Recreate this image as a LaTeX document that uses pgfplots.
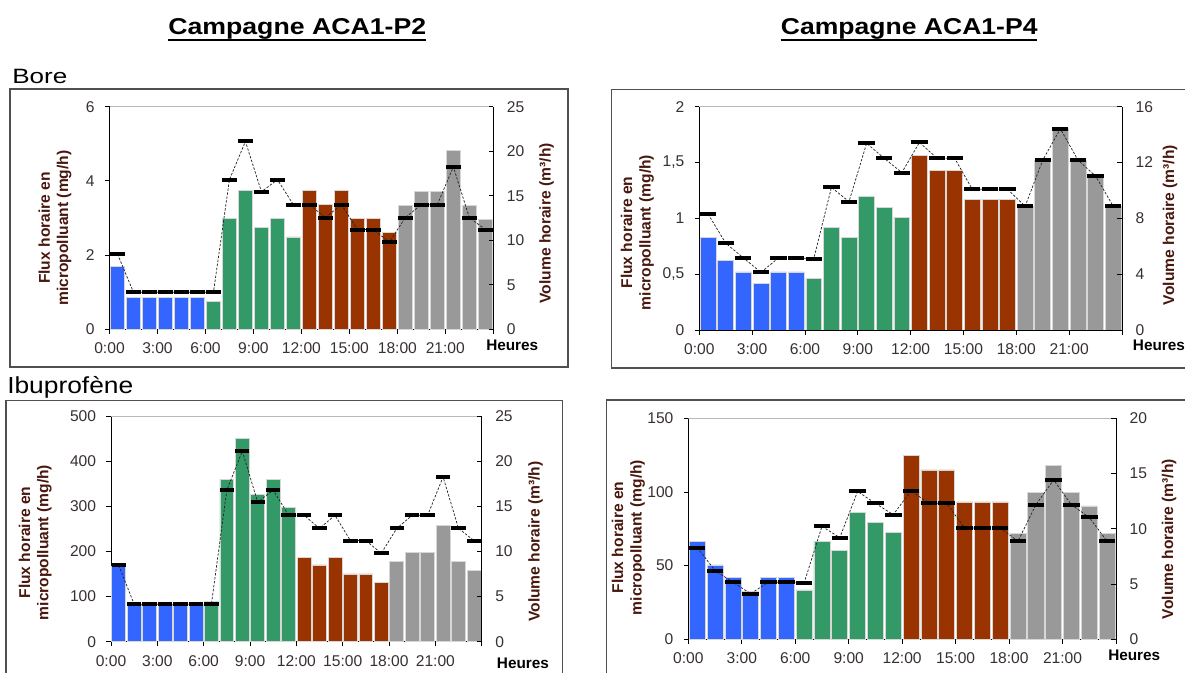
\documentclass[border=0pt]{standalone}
\usepackage{fontspec}
\setmainfont{Liberation Sans}
\usepackage{graphicx}
\usepackage{pgfplots}
\pgfplotsset{compat=1.18}

\definecolor{cblue}{RGB}{51,102,255}
\definecolor{cgreen}{RGB}{51,153,102}
\definecolor{cbrown}{RGB}{153,51,0}
\definecolor{cgray}{RGB}{153,153,153}
\definecolor{tickc}{RGB}{56,48,48}
\definecolor{labc}{RGB}{72,24,14}
\definecolor{framec}{RGB}{80,80,80}
\definecolor{edgec}{RGB}{215,215,215}

\pgfplotsset{
  fluxax/.style={
    scale only axis, anchor=south west,
    xmin=0, xmax=24,
    axis y line*=left, axis x line*=bottom,
    axis line style={black, line width=0.7pt},
    xtick={0,3,...,24},
    xticklabels={0:00,3:00,6:00,9:00,12:00,15:00,18:00,21:00,{}},
    tick style={black, line width=0.6pt},
    major tick length=3.5pt,
    tick align=outside,
    ticklabel style={font=\fontsize{11.7}{13}\selectfont, text=tickc, inner sep=0pt},
    yticklabel style={anchor=east, xshift=-7.5pt},
    xticklabel style={anchor=north, yshift=-6.5pt},
  },
  volax/.style={
    scale only axis, anchor=south west,
    xmin=0, xmax=24,
    axis y line*=right, axis x line=none,
    axis line style={black, line width=0.7pt},
    tick style={black, line width=0.6pt},
    major tick length=3.5pt,
    ytick align=inside,
    yticklabel style={font=\fontsize{11.7}{13}\selectfont, text=tickc, inner sep=0pt, anchor=west, xshift=10pt},
  },
  bars/.style={ybar, bar width=0.9, bar shift=0pt, draw=edgec, line width=0.5pt, fill=#1},
  volline/.style={black!85, line width=0.55pt, dash pattern=on 1.8pt off 1.2pt, mark=-, mark size=#1, mark options={solid, line width=3pt, black}},
}

\begin{document}
\begin{tikzpicture}
\useasboundingbox (0,0) rectangle (888.75pt,504.75pt);
\clip (0,0) rectangle (888.75pt,504.75pt);
\begin{scope}[x=0.75pt,y=-0.75pt,yshift=504.75pt]
  % titles
  \node[anchor=base west, inner sep=0pt] at (168,34.3) {\resizebox{193.5pt}{12pt}{\bfseries Campagne ACA1-P2}};
  \draw[black, line width=1.5pt] (168,40.3) -- (426,40.3);
  \node[anchor=base west, inner sep=0pt] at (780.7,34.3) {\resizebox{192.45pt}{12pt}{\bfseries Campagne ACA1-P4}};
  \draw[black, line width=1.5pt] (780.7,40.3) -- (1037.3,40.3);
  \node[anchor=base west, inner sep=0pt] at (12,83.3) {\resizebox{41.25pt}{10.7pt}{Bore}};
  \node[anchor=base west, inner sep=0pt] at (7,393.3) {\resizebox{94.5pt}{12.8pt}{Ibuprofène}};
  % frames
  \draw[framec, line width=1.1pt] (10,89) rectangle (568,367);
  \draw[framec, line width=1.1pt] (611.7,89.3) rectangle (1200,368);
  \draw[framec, line width=1.1pt] (6,400.7) rectangle (562.3,690);
  \draw[framec, line width=1.1pt] (606.7,400) rectangle (1200,690);
  % axis titles
  \tikzset{ylab/.style={rotate=90, align=center, inner sep=0pt, text=labc, font=\bfseries\fontsize{11.7}{13.8}\selectfont}}
  \node[ylab] at (55,228) {Flux horaire en\\micropolluant (mg/h)};
  \node[ylab] at (637.3,232.5) {Flux horaire en\\micropolluant (mg/h)};
  \node[ylab] at (35.3,542.5) {Flux horaire en\\micropolluant (mg/h)};
  \node[ylab] at (628.3,537.5) {Flux horaire en\\micropolluant (mg/h)};
  \node[ylab] at (546.7,223.3) {Volume horaire (m³/h)};
  \node[ylab] at (1170,225) {Volume horaire (m³/h)};
  \node[ylab] at (535.7,541.7) {Volume horaire (m³/h)};
  \node[ylab] at (1169,539) {Volume horaire (m³/h)};
  \tikzset{hlab/.style={anchor=west, inner sep=0pt, text=black, font=\bfseries\fontsize{11.5}{13}\selectfont}}
  \node[hlab] at (486,345.7) {Heures};
  \node[hlab] at (1132.7,345) {Heures};
  \node[hlab] at (496.7,663) {Heures};
  \node[hlab] at (1108,655) {Heures};
\end{scope}

% ---------------- Panel 1 : Bore, P2 ----------------
\begin{axis}[fluxax, at={(82.125pt,257.775pt)}, width=287.85pt, height=166.95pt,
  ymin=0, ymax=6, ytick={0,2,4,6}, yticklabels={0,2,4,6}]
  \addplot[bars=cblue] coordinates {(0.5,1.69) (1.5,0.85) (2.5,0.85) (3.5,0.85) (4.5,0.85) (5.5,0.85)};
  \addplot[bars=cgreen] coordinates {(6.5,0.75) (7.5,2.99) (8.5,3.74) (9.5,2.74) (10.5,2.99) (11.5,2.49)};
  \addplot[bars=cbrown] coordinates {(12.5,3.74) (13.5,3.36) (14.5,3.74) (15.5,2.99) (16.5,2.99) (17.5,2.62)};
  \addplot[bars=cgray] coordinates {(18.5,3.34) (19.5,3.71) (20.5,3.71) (21.5,4.82) (22.5,3.34) (23.5,2.96)};
  \draw[gray!55, line width=0.6pt] (rel axis cs:0,1) -- (rel axis cs:1,1);
\end{axis}
\begin{axis}[volax, at={(82.125pt,257.775pt)}, width=287.85pt, height=166.95pt,
  ymin=0, ymax=25, ytick={0,5,10,15,20,25}, yticklabels={0,5,10,15,20,25}]
  \addplot[volline=5.6pt] coordinates {(0.5,8.45) (1.5,4.15) (2.5,4.15) (3.5,4.15) (4.5,4.15) (5.5,4.15) (6.5,4.15) (7.5,16.8) (8.5,21.1) (9.5,15.45) (10.5,16.8) (11.5,14.0) (12.5,14.0) (13.5,12.55) (14.5,14.0) (15.5,11.2) (16.5,11.2) (17.5,9.8) (18.5,12.55) (19.5,14.0) (20.5,14.0) (21.5,18.25) (22.5,12.55) (23.5,11.2)};
\end{axis}

% ---------------- Panel 2 : Bore, P4 ----------------
\begin{axis}[fluxax, at={(524.475pt,257.25pt)}, width=317.025pt, height=167.475pt,
  ymin=0, ymax=2, ytick={0,0.5,1,1.5,2}, yticklabels={0,{0,5},1,{1,5},2}]
  \addplot[bars=cblue] coordinates {(0.5,0.83) (1.5,0.624) (2.5,0.52) (3.5,0.418) (4.5,0.52) (5.5,0.52)};
  \addplot[bars=cgreen] coordinates {(6.5,0.463) (7.5,0.916) (8.5,0.83) (9.5,1.2) (10.5,1.1) (11.5,1.01)};
  \addplot[bars=cbrown] coordinates {(12.5,1.56) (13.5,1.43) (14.5,1.43) (15.5,1.167) (16.5,1.167) (17.5,1.167)};
  \addplot[bars=cgray] coordinates {(18.5,1.107) (19.5,1.52) (20.5,1.81) (21.5,1.52) (22.5,1.39) (23.5,1.107)};
  \draw[gray!55, line width=0.6pt] (rel axis cs:0,1) -- (rel axis cs:1,1);
\end{axis}
\begin{axis}[volax, at={(524.475pt,257.25pt)}, width=317.025pt, height=167.475pt,
  ymin=0, ymax=16, ytick={0,4,8,12,16}, yticklabels={0,4,8,12,16}]
  \addplot[volline=6.1pt] coordinates {(0.5,8.3) (1.5,6.22) (2.5,5.17) (3.5,4.13) (4.5,5.17) (5.5,5.17) (6.5,5.1) (7.5,10.22) (8.5,9.2) (9.5,13.38) (10.5,12.3) (11.5,11.28) (12.5,13.44) (13.5,12.3) (14.5,12.3) (15.5,10.08) (16.5,10.08) (17.5,10.08) (18.5,8.87) (19.5,12.17) (20.5,14.42) (21.5,12.17) (22.5,11.03) (23.5,8.87)};
\end{axis}

% ---------------- Panel 3 : Ibuprofene, P2 ----------------
\begin{axis}[fluxax, at={(83.25pt,23.475pt)}, width=278.025pt, height=169.275pt,
  ymin=0, ymax=500, ytick={0,100,200,300,400,500}, yticklabels={0,100,200,300,400,500}]
  \addplot[bars=cblue] coordinates {(0.5,167) (1.5,83) (2.5,83) (3.5,83) (4.5,83) (5.5,83)};
  \addplot[bars=cgreen] coordinates {(6.5,89) (7.5,360) (8.5,450) (9.5,327) (10.5,360) (11.5,297)};
  \addplot[bars=cbrown] coordinates {(12.5,187) (13.5,170) (14.5,187) (15.5,150) (16.5,150) (17.5,131)};
  \addplot[bars=cgray] coordinates {(18.5,177) (19.5,197) (20.5,197) (21.5,258) (22.5,177) (23.5,158)};
  \draw[gray!55, line width=0.6pt] (rel axis cs:0,1) -- (rel axis cs:1,1);
\end{axis}
\begin{axis}[volax, at={(83.25pt,23.475pt)}, width=278.025pt, height=169.275pt,
  ymin=0, ymax=25, ytick={0,5,10,15,20,25}, yticklabels={0,5,10,15,20,25}]
  \addplot[volline=5.4pt] coordinates {(0.5,8.45) (1.5,4.15) (2.5,4.15) (3.5,4.15) (4.5,4.15) (5.5,4.15) (6.5,4.15) (7.5,16.8) (8.5,21.1) (9.5,15.45) (10.5,16.8) (11.5,14.0) (12.5,14.0) (13.5,12.55) (14.5,14.0) (15.5,11.2) (16.5,11.2) (17.5,9.8) (18.5,12.55) (19.5,14.0) (20.5,14.0) (21.5,18.25) (22.5,12.55) (23.5,11.2)};
\end{axis}

% ---------------- Panel 4 : Ibuprofene, P4 ----------------
\begin{axis}[fluxax, at={(516.225pt,25.275pt)}, width=320.775pt, height=165.75pt,
  ymin=0, ymax=150, ytick={0,50,100,150}, yticklabels={0,50,100,150}]
  \addplot[bars=cblue] coordinates {(0.5,66.7) (1.5,50.5) (2.5,41.9) (3.5,32.4) (4.5,41.9) (5.5,41.9)};
  \addplot[bars=cgreen] coordinates {(6.5,33.5) (7.5,66.7) (8.5,60.4) (9.5,86) (10.5,79.6) (11.5,72.4)};
  \addplot[bars=cbrown] coordinates {(12.5,125) (13.5,115) (14.5,115) (15.5,93.2) (16.5,93.2) (17.5,93.2)};
  \addplot[bars=cgray] coordinates {(18.5,72) (19.5,99.8) (20.5,117.9) (21.5,99.8) (22.5,90.5) (23.5,72)};
  \draw[gray!55, line width=0.6pt] (rel axis cs:0,1) -- (rel axis cs:1,1);
\end{axis}
\begin{axis}[volax, at={(516.225pt,25.275pt)}, width=320.775pt, height=165.75pt,
  ymin=0, ymax=20, ytick={0,5,10,15,20}, yticklabels={0,5,10,15,20}]
  \addplot[volline=6.2pt] coordinates {(0.5,8.3) (1.5,6.22) (2.5,5.17) (3.5,4.13) (4.5,5.17) (5.5,5.17) (6.5,5.1) (7.5,10.22) (8.5,9.2) (9.5,13.38) (10.5,12.3) (11.5,11.28) (12.5,13.44) (13.5,12.3) (14.5,12.3) (15.5,10.08) (16.5,10.08) (17.5,10.08) (18.5,8.87) (19.5,12.17) (20.5,14.42) (21.5,12.17) (22.5,11.03) (23.5,8.87)};
\end{axis}
\end{tikzpicture}
\end{document}
